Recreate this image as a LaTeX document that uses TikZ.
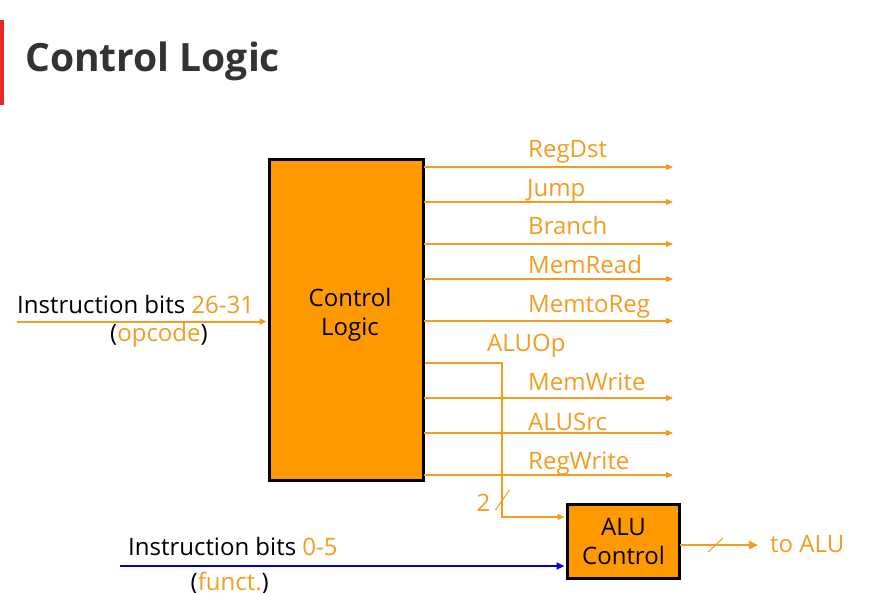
\documentclass[tikz,border=0pt]{standalone}
\usepackage{fontspec}
\setmainfont{Open Sans}
\usetikzlibrary{arrows.meta}
\definecolor{boxorange}{RGB}{255,153,0}
\definecolor{sigorange}{RGB}{243,156,30}
\definecolor{titlegray}{RGB}{51,51,51}
\definecolor{barred}{RGB}{232,40,40}
\definecolor{funcblue}{RGB}{0,0,220}
\tikzset{
  lbl/.style={inner sep=0pt, anchor=base west, font=\fontsize{24}{28}\selectfont},
  siglbl/.style={lbl, text=sigorange},
  sig/.style={draw=sigorange, line width=1.1pt, -{Triangle[length=7pt,width=6pt]}},
  blockbox/.style={draw=black, line width=3pt, fill=boxorange, inner sep=0pt,
    align=center, font=\fontsize{24}{28.5}\selectfont},
  busmark/.style={draw=sigorange, line width=1pt}
}
\begin{document}
\begin{tikzpicture}[x=1pt,y=-1pt]
\useasboundingbox (0,0) rectangle (892,592);
\fill[white] (0,0) rectangle (892,592);

% heading with its red bar
\fill[barred] (0,20) rectangle (4,105);
\node[inner sep=0pt, anchor=base west, text=titlegray,
  font=\fontsize{39}{44}\selectfont\bfseries] (title) at (25,71.5) {Control Logic};

% control logic block
\node[blockbox, minimum width=154pt, minimum height=321pt] (cl) at (346.5,320) {};
\node[inner sep=0pt, align=center, font=\fontsize{24}{28.5}\selectfont] (cltext) at (350,315) {Control\\Logic};

% ALU control block
\node[blockbox, minimum width=112pt, minimum height=74pt] (aluc) at (623.5,541.5) {ALU\\Control};

% output signal end points
\coordinate (eRegDst) at (673,167);
\coordinate (eJump) at (673,202);
\coordinate (eBranch) at (673,244);
\coordinate (eMemRead) at (673,279);
\coordinate (eMemtoReg) at (673,321);
\coordinate (eMemWrite) at (673,398);
\coordinate (eALUSrc) at (673,433);
\coordinate (eRegWrite) at (673,475);

\foreach \s in {RegDst,Jump,Branch,MemRead,MemtoReg,MemWrite,ALUSrc,RegWrite}
  \draw[sig, shorten <=-1.5pt] (cl.east |- e\s) -- (e\s);

% signal names
\node[siglbl] (lRegDst) at (528,157.5) {RegDst};
\node[siglbl] (lJump) at (527,196.5) {Jump};
\node[siglbl] (lBranch) at (528,234.5) {Branch};
\node[siglbl] (lMemRead) at (528,273) {MemRead};
\node[siglbl] (lMemtoReg) at (528,312) {MemtoReg};
\node[siglbl] (lALUOp) at (487,351.5) {ALUOp};
\node[siglbl] (lMemWrite) at (528,390.5) {MemWrite};
\node[siglbl] (lALUSrc) at (528,430) {ALUSrc};
\node[siglbl] (lRegWrite) at (528,469) {RegWrite};

% ALUOp bus into ALU control
\coordinate (aopStart) at (423.5,363);
\coordinate (aopCorner) at (502,363);
\draw[sig] (cl.east |- aopStart) -- (aopCorner) |- ([xshift=-1.5pt]aluc.west |- 0,517);
\draw[busmark] (495.5,510) -- (509.5,490);
\node[siglbl] (ltwo) at (476.5,511) {2};

% opcode input
\coordinate (inOp) at (17,321.5);
\draw[sig, line width=2pt, shorten >=1.5pt] (inOp) -- (cl.west |- inOp);
\node[lbl] (lInOp) at (17,313) {Instruction bits \textcolor{sigorange}{26-31}};
\node[lbl] (lOpcode) at (110,341.5) {(\textcolor{sigorange}{opcode})};

% funct input
\coordinate (inFn) at (120,566);
\draw[draw=funcblue, line width=2.5pt, -{Triangle[length=8pt,width=7pt]}, shorten >=1.5pt]
  (inFn) -- (aluc.west |- inFn);
\node[lbl] (lInFn) at (128,555.5) {Instruction bits \textcolor{sigorange}{0-5}};
\node[lbl] (lFunct) at (190.5,590) {(\textcolor{sigorange}{funct.})};

% ALU control output
\coordinate (toAlu) at (758,545);
\draw[sig, line width=2.5pt, -{Triangle[length=9pt,width=8pt]}, shorten <=-1.5pt] (aluc.east |- toAlu) -- (toAlu);
\draw[busmark] (708,552) -- (723,538);
\node[siglbl] (lToAlu) at (770,552.5) {to ALU};
\end{tikzpicture}
\end{document}
